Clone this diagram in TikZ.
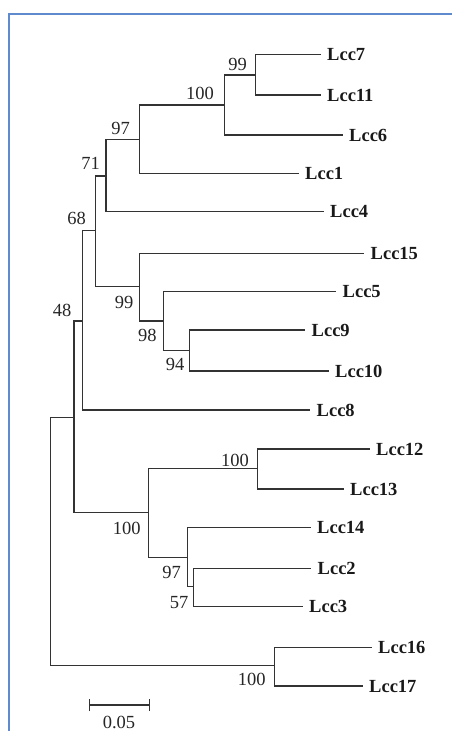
\documentclass[tikz,border=0pt]{standalone}
\usepackage{fontspec}
\setmainfont{Liberation Serif}
\begin{document}
\begin{tikzpicture}[x=1bp,y=-1bp,
  branch/.style={draw=black!80,line width=1.5bp},
  leaf/.style={anchor=west,inner sep=0pt,font=\fontsize{18.5bp}{20bp}\selectfont\bfseries,text=black!90},
  boot/.style={inner sep=0pt,font=\fontsize{18.5bp}{20bp}\selectfont,text=black!85},
  frame/.style={draw={rgb,255:red,95;green,138;blue,205},line width=1.8bp}]
\useasboundingbox (0,0) rectangle (452,731);
% frame
\coordinate (ftr) at (452,14);
\coordinate (ftl) at (8.8,14);
\coordinate (fbl) at (8.8,731);
\draw[frame] (ftr) -- (ftl) -- (fbl);
% leaves
\node[leaf] (l7)  at (327,54.5)  {Lcc7};
\node[leaf] (l11) at (327,95)    {Lcc11};
\node[leaf] (l6)  at (349,135)   {Lcc6};
\node[leaf] (l1)  at (305,173.7) {Lcc1};
\node[leaf] (l4)  at (330,211.7) {Lcc4};
\node[leaf] (l15) at (370.5,253.3) {Lcc15};
\node[leaf] (l5)  at (342.5,291.7) {Lcc5};
\node[leaf] (l9)  at (311.5,330) {Lcc9};
\node[leaf] (l10) at (335,371)   {Lcc10};
\node[leaf] (l8)  at (316.5,410) {Lcc8};
\node[leaf] (l12) at (376,449)   {Lcc12};
\node[leaf] (l13) at (350,489)   {Lcc13};
\node[leaf] (l14) at (317,527.7) {Lcc14};
\node[leaf] (l2)  at (317.5,568.3) {Lcc2};
\node[leaf] (l3)  at (309,606.7) {Lcc3};
\node[leaf] (l16) at (378,647.3) {Lcc16};
\node[leaf] (l17) at (369,686)   {Lcc17};
% internal nodes
\coordinate (a) at (255.7,75);
\coordinate (b) at (224.3,105);
\coordinate (c) at (139.3,139.3);
\coordinate (d) at (106,176);
\coordinate (e) at (95.3,230.7);
\coordinate (f) at (139.3,286.7);
\coordinate (g) at (163.3,321);
\coordinate (h) at (189.3,350.7);
\coordinate (i) at (82.3,321);
\coordinate (j) at (257.7,468.3);
\coordinate (k) at (148.3,512.7);
\coordinate (l) at (187.7,557.7);
\coordinate (m) at (193.3,586.7);
\coordinate (n) at (74,417.7);
\coordinate (o) at (274.3,665.7);
\coordinate (r) at (50.3,541.7);
% branches to leaves
\foreach \p/\q in {a/l7,a/l11,b/l6,c/l1,d/l4,f/l15,g/l5,h/l9,h/l10,i/l8,j/l12,j/l13,l/l14,m/l2,m/l3,o/l16,o/l17}
  \draw[branch] (\p) |- ([xshift=-6.5bp]\q.west);
% internal branches
\foreach \p/\q in {b/a,c/b,d/c,e/d,e/f,f/g,g/h,i/e,n/i,n/k,k/j,k/l,l/m,r/n,r/o}
  \draw[branch] (\p) |- (\q);
% bootstrap values
\node[boot] (ba) at (237.7,64.3) {99};
\node[boot] (bb) at (200,93.3) {100};
\node[boot] (bc) at (120.7,128.3) {97};
\node[boot] (bd) at (90.7,163.3) {71};
\node[boot] (be) at (76.7,218.3) {68};
\node[boot] (bf) at (124,302.7) {99};
\node[boot] (bg) at (147.3,335) {98};
\node[boot] (bh) at (175,364.3) {94};
\node[boot] (bi) at (62,310.7) {48};
\node[boot] (bj) at (235,460) {100};
\node[boot] (bk) at (126.7,528.3) {100};
\node[boot] (bl) at (171.7,572.3) {97};
\node[boot] (bm) at (179,602.3) {57};
\node[boot] (bo) at (251.7,679) {100};
% scale bar
\coordinate (s1) at (89.3,705);
\coordinate (s2) at (149.7,705);
\draw[branch] (s1) -- (s2);
\draw[branch] ([yshift=-6bp]s1) -- ([yshift=6bp]s1);
\draw[branch] ([yshift=-6bp]s2) -- ([yshift=6bp]s2);
\node[boot] (sl) at (119,722) {0.05};
\end{tikzpicture}
\end{document}
